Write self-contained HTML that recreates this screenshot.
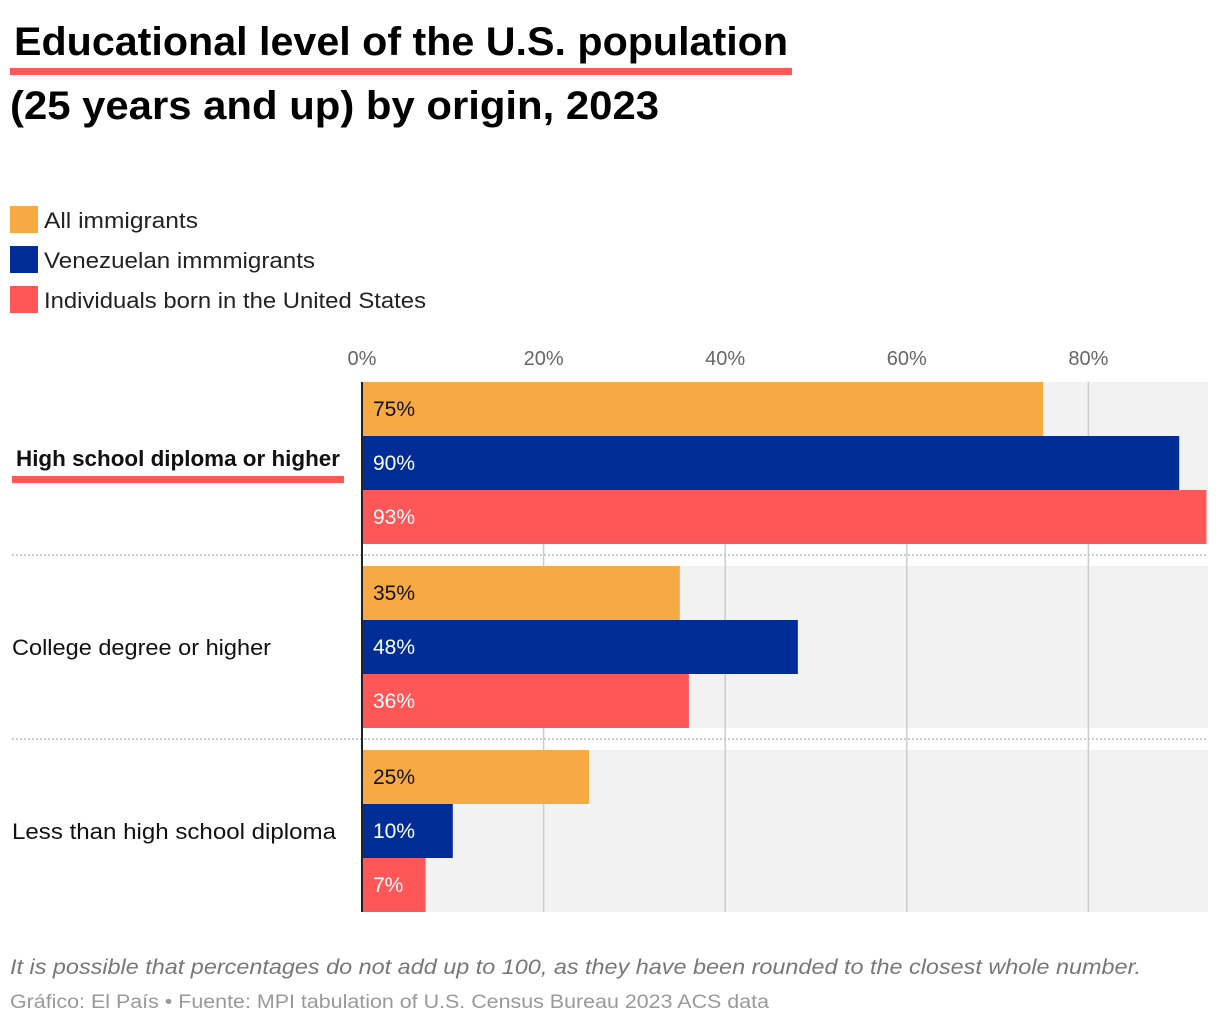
<!DOCTYPE html>
<html><head><meta charset="utf-8"><style>
html,body{margin:0;padding:0;background:#fff;}
svg{display:block;font-family:"Liberation Sans",sans-serif;}
</style></head><body>
<svg id="chart" width="1220" height="1028" viewBox="0 0 1220 1028">
<rect x="10" y="68" width="782" height="7" fill="#ff5757"/>
<text x="14" y="55" font-size="40" font-weight="bold" fill="#000" textLength="774" lengthAdjust="spacingAndGlyphs">Educational level of the U.S. population</text>
<text x="10" y="119" font-size="40" font-weight="bold" fill="#000" textLength="649" lengthAdjust="spacingAndGlyphs">(25 years and up) by origin, 2023</text>
<g id="legend"></g>
<g id="grid"></g>
<g id="bars"></g>
<g id="cats"></g>
<line x1="362" y1="382" x2="362" y2="912" stroke="#222" stroke-width="2"/>
<text x="10" y="974" font-size="21" font-style="italic" fill="#777" textLength="1131" lengthAdjust="spacingAndGlyphs">It is possible that percentages do not add up to 100, as they have been rounded to the closest whole number.</text>
<text x="10" y="1008" font-size="19" fill="#999" textLength="759" lengthAdjust="spacingAndGlyphs">Gráfico: El País • Fuente: MPI tabulation of U.S. Census Bureau 2023 ACS data</text>
</svg>
<script>
const categories = ["High school diploma or higher","College degree or higher","Less than high school diploma"];
const seriesNames = ["All immigrants","Venezuelan immmigrants","Individuals born in the United States"];
const allImmigrants = [75,35,25];
const venezuelan = [90,48,10];
const usBorn = [93,36,7];
const ticks = [0,20,40,60,80];
const colors = ["#f7a944","#002e96","#ff5757"];
const textColors = ["#111","#fff","#fff"];
const legendWidths = [154,271,382];
const catWidths = [324,259,324];
const series = [allImmigrants, venezuelan, usBorn];
const NS = "http://www.w3.org/2000/svg";
const x0 = 362, pxPer = 9.08;
const xs = v => x0 + v * pxPer;
const groupTop = [382,566,750], barH = 54, plotRight = 1208;
function mk(tag, attrs, parent, txt){const e=document.createElementNS(NS,tag);for(const k in attrs)e.setAttribute(k,attrs[k]);if(txt!==undefined)e.textContent=txt;parent.appendChild(e);return e;}
const legend=document.getElementById('legend');
seriesNames.forEach((n,i)=>{
  const r=mk('rect',{x:10,y:206+i*40,width:28,height:27,fill:colors[i]},legend);
  
  
  const t=mk('text',{x:44,y:228+i*40,'font-size':22,fill:'#222',textLength:legendWidths[i],lengthAdjust:'spacingAndGlyphs'},legend,n);
  
  
});
const grid=document.getElementById('grid');
categories.forEach((c,g)=>{
  const bg=mk('rect',{x:x0,y:groupTop[g],width:plotRight-x0,height:barH*3,fill:'#f2f2f2'},grid);
  
  
  if(g>0){const l=mk('line',{x1:12,x2:plotRight,y1:groupTop[g]-11,y2:groupTop[g]-11,stroke:'#ccc','stroke-width':2,'stroke-dasharray':'2 2'},grid);
  
  }
});
ticks.forEach(t=>{
  if(t>0){const l=mk('line',{x1:xs(t),x2:xs(t),y1:382,y2:912,stroke:'#ccc','stroke-width':1.5},grid);
  
  }
  const tx=mk('text',{x:xs(t),y:365,'font-size':20,fill:'#666','text-anchor':'middle'},grid,t+'%');
  
  
});
const bars=document.getElementById('bars');
categories.forEach((c,g)=>{
  series.forEach((s,i)=>{
    const y=groupTop[g]+i*barH;
    const r=mk('rect',{x:x0,y:y,width:xs(s[g])-x0,height:barH,fill:colors[i]},bars);
    
    
    const t=mk('text',{x:373,y:y+34,'font-size':21,fill:textColors[i]},bars,s[g]+'%');
    
    
  });
});
const cats=document.getElementById('cats');
categories.forEach((c,g)=>{
  const bold=g===0;
  const t=mk('text',{x:bold?16:12,y:groupTop[g]+barH*1.5+(bold?3:8),'font-size':22,fill:'#111','font-weight':bold?'bold':'normal',textLength:catWidths[g],lengthAdjust:'spacingAndGlyphs'},cats,c);
  
  
  if(bold){const u=mk('rect',{x:12,y:476,width:332,height:7,fill:'#ff5757'},cats);
  
  }
});
</script>
</body></html>
